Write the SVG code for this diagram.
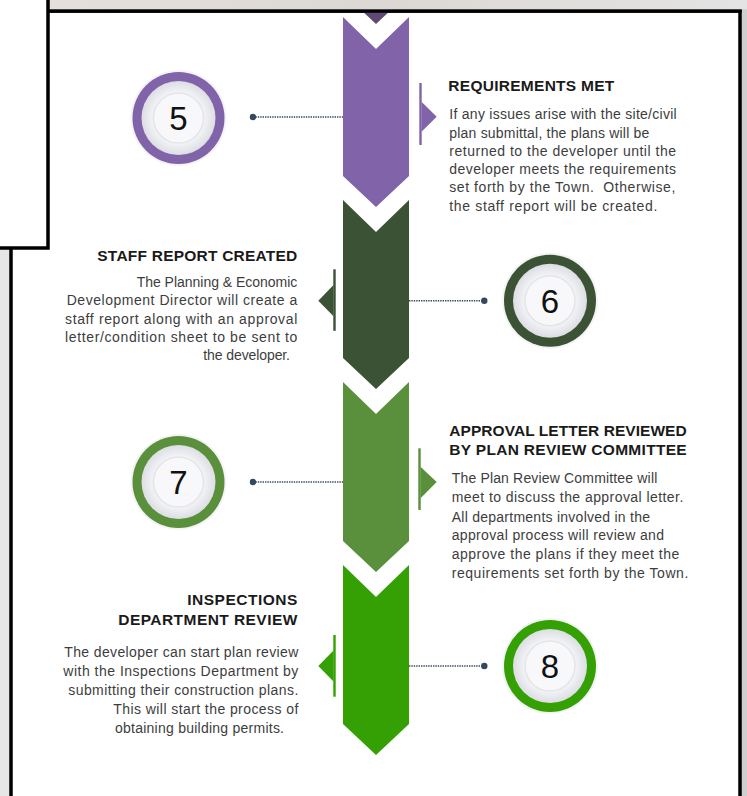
<svg xmlns="http://www.w3.org/2000/svg" width="747" height="796" viewBox="0 0 747 796">
  <defs>
    <linearGradient id="topbg" x1="0" y1="0" x2="1" y2="0">
      <stop offset="0" stop-color="#e6e1dc"/>
      <stop offset="0.5" stop-color="#dcd8d3"/>
      <stop offset="1" stop-color="#e4e4e4"/>
    </linearGradient>
    <radialGradient id="plate" cx="0.5" cy="0.5" r="0.5">
      <stop offset="0" stop-color="#ffffff"/>
      <stop offset="0.65" stop-color="#f5f6f8"/>
      <stop offset="1" stop-color="#dcdee4"/>
    </radialGradient>
    <style>
      .head { font-family: "Liberation Sans", Arial, sans-serif; font-weight: bold; font-size: 15.5px; fill: #1a1a1a; }
      .body { font-family: "Liberation Sans", Arial, sans-serif; font-size: 14px; fill: #3d3d3d; }
      .num { font-family: "Liberation Sans", Arial, sans-serif; font-size: 33px; fill: #111111; text-anchor: middle; }
      .plate { fill: url(#plate); }
      .inner { fill: #f8f8fa; stroke: #e4e5ea; stroke-width: 1.5; }
      .dotline { stroke: #34495e; stroke-width: 1.6; stroke-dasharray: 1.4 1; fill: none; }
      .dot { fill: #34495e; }
      .purple { fill: #8063a9; }
      .dgreen { fill: #3b5234; }
      .mgreen { fill: #5a8f3b; }
      .bgreen { fill: #35a003; }
    </style>
  </defs>

  <!-- backdrop -->
  <rect x="0" y="0" width="747" height="796" fill="#e6e6e6"/>
  <rect x="0" y="0" width="747" height="12" fill="url(#topbg)"/>
  <rect x="740" y="0" width="7" height="796" fill="#cfcfcf"/>
  <rect x="11" y="11" width="729" height="800" fill="#ffffff" stroke="#000000" stroke-width="3.5"/>

  <!-- chevron column -->
  <g id="column">
    <polygon fill="#5e4a74" points="343,-10 409,-10 409,-7 376,24 343,-7"/>
    <polygon class="purple" points="343,17 376,49 409,17 409,176 376,207 343,176"/>
    <polygon class="dgreen" points="343,200 376,232 409,200 409,358 376,389 343,358"/>
    <polygon class="mgreen" points="343,382 376,414 409,382 409,541 376,572 343,541"/>
    <polygon class="bgreen" points="343,565 376,597 409,565 409,724 376,755 343,724"/>
  </g>

  <!-- redraw panel top border over the previous chevron -->
  <line x1="0" y1="11" x2="741.75" y2="11" stroke="#000000" stroke-width="3.5"/>
  <rect x="0" y="0" width="747" height="9.25" fill="url(#topbg)"/>

  <!-- top-left overlapping box -->
  <rect x="-10" y="-10" width="58" height="258" fill="#ffffff" stroke="#000000" stroke-width="3.5"/>

  <!-- connectors -->
  <g id="connectors">
    <line class="dotline" x1="253" y1="117" x2="343" y2="117"/>
    <circle class="dot" cx="253" cy="117" r="3.2"/>
    <line class="dotline" x1="409" y1="300.7" x2="484" y2="300.7"/>
    <circle class="dot" cx="484.3" cy="300.7" r="3.2"/>
    <line class="dotline" x1="253" y1="482" x2="343" y2="482"/>
    <circle class="dot" cx="253" cy="482" r="3.2"/>
    <line class="dotline" x1="409" y1="666" x2="484" y2="666"/>
    <circle class="dot" cx="484.3" cy="666" r="3.2"/>
  </g>

  <!-- step 5 -->
  <g id="step5">
    <circle cx="178.5" cy="118" r="48" fill="#f4f4f6"/>
    <circle class="purple" cx="178.5" cy="118" r="46"/>
    <circle class="plate" cx="178.5" cy="118" r="37"/>
    <circle class="inner" cx="178.5" cy="118" r="25"/>
    <text class="num" x="178.5" y="130">5</text>
    <rect class="purple" x="419.3" y="83" width="2.4" height="62"/>
    <polygon class="purple" points="421.5,101.7 436.7,116.7 421.5,131.7"/>
    <text class="head" x="448.3" y="91" textLength="166">REQUIREMENTS MET</text>
    <text class="body" x="449.3" y="119.3" textLength="227.4">If any issues arise with the site/civil</text>
    <text class="body" x="449.3" y="137.5" textLength="200">plan submittal, the plans will be</text>
    <text class="body" x="449.3" y="156" textLength="226.7">returned to the developer until the</text>
    <text class="body" x="449.3" y="174" textLength="226.7">developer meets the requirements</text>
    <text class="body" x="449.3" y="192.3" textLength="226" xml:space="preserve">set forth by the Town.  Otherwise,</text>
    <text class="body" x="449.3" y="210.5" textLength="208">the staff report will be created.</text>
  </g>

  <!-- step 6 -->
  <g id="step6">
    <circle cx="550" cy="300.7" r="48" fill="#f4f4f6"/>
    <circle class="dgreen" cx="550" cy="300.7" r="46"/>
    <circle class="plate" cx="550" cy="300.7" r="37"/>
    <circle class="inner" cx="550" cy="300.7" r="25"/>
    <text class="num" x="550" y="312.5">6</text>
    <rect class="dgreen" x="333.3" y="269.3" width="2.4" height="61.5"/>
    <polygon class="dgreen" points="333.5,285 318.3,300.7 333.5,316.3"/>
    <text class="head" x="97.3" y="261" textLength="200">STAFF REPORT CREATED</text>
    <text class="body" x="136.7" y="287" textLength="160.6">The Planning &amp; Economic</text>
    <text class="body" x="66.7" y="305.3" textLength="230.6">Development Director will create a</text>
    <text class="body" x="65" y="323.6" textLength="232.3">staff report along with an approval</text>
    <text class="body" x="65" y="342" textLength="232.3">letter/condition sheet to be sent to</text>
    <text class="body" x="203.3" y="360.3" textLength="86.7">the developer.</text>
  </g>

  <!-- step 7 -->
  <g id="step7">
    <circle cx="178.5" cy="482" r="48" fill="#f4f4f6"/>
    <circle class="mgreen" cx="178.5" cy="482" r="46"/>
    <circle class="plate" cx="178.5" cy="482" r="37"/>
    <circle class="inner" cx="178.5" cy="482" r="25"/>
    <text class="num" x="178.5" y="494">7</text>
    <rect class="mgreen" x="418.3" y="448.3" width="2.4" height="61.7"/>
    <polygon class="mgreen" points="420.5,466.7 436.7,482 420.5,498.3"/>
    <text class="head" x="449.3" y="435.7" textLength="237.4">APPROVAL LETTER REVIEWED</text>
    <text class="head" x="449.3" y="455" textLength="237.4">BY PLAN REVIEW COMMITTEE</text>
    <text class="body" x="451.7" y="483.3" textLength="205.6">The Plan Review Committee will</text>
    <text class="body" x="451.7" y="502.3" textLength="231.6">meet to discuss the approval letter.</text>
    <text class="body" x="451.7" y="521.7" textLength="198.3">All departments involved in the</text>
    <text class="body" x="451.7" y="540.3" textLength="212.3">approval process will review and</text>
    <text class="body" x="451.7" y="559.3" textLength="227.6">approve the plans if they meet the</text>
    <text class="body" x="451.7" y="578.3" textLength="236.6">requirements set forth by the Town.</text>
  </g>

  <!-- step 8 -->
  <g id="step8">
    <circle cx="550" cy="666" r="48" fill="#f4f4f6"/>
    <circle class="bgreen" cx="550" cy="666" r="46"/>
    <circle class="plate" cx="550" cy="666" r="37"/>
    <circle class="inner" cx="550" cy="666" r="25"/>
    <text class="num" x="550" y="678">8</text>
    <rect class="bgreen" x="333.3" y="635" width="2.4" height="61.7"/>
    <polygon class="bgreen" points="333.5,650.5 318.3,666 333.5,681.5"/>
    <text class="head" x="187.3" y="605" textLength="110">INSPECTIONS</text>
    <text class="head" x="118.3" y="625" textLength="179">DEPARTMENT REVIEW</text>
    <text class="body" x="64.3" y="656.7" textLength="234">The developer can start plan review</text>
    <text class="body" x="63.3" y="675.7" textLength="235">with the Inspections Department by</text>
    <text class="body" x="68.3" y="695" textLength="230">submitting their construction plans.</text>
    <text class="body" x="113.3" y="714.3" textLength="185">This will start the process of</text>
    <text class="body" x="115" y="733.3" textLength="169">obtaining building permits.</text>
  </g>
</svg>
